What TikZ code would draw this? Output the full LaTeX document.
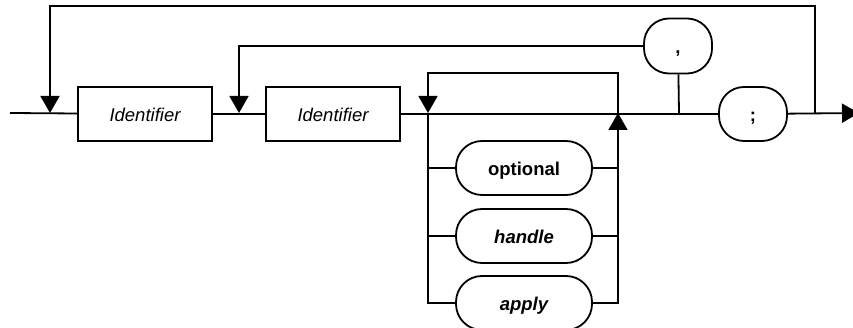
\documentclass[tikz,border=0pt]{standalone}
\usepackage{fontspec}
\setmainfont{Liberation Sans}
\usetikzlibrary{arrows.meta}

\begin{document}
\begin{tikzpicture}[x=1pt,y=-1pt,line width=1.8pt,
  nonterm/.style={draw,minimum width=134pt,minimum height=54pt,inner sep=0pt,
    text height=15pt,text depth=0pt,font=\fontsize{18.5}{22}\selectfont\itshape},
  term/.style={draw,rounded corners=26pt,minimum width=136pt,minimum height=54pt,inner sep=0pt,
    text height=15pt,text depth=0pt,font=\fontsize{18.5}{22}\selectfont\bfseries},
  tip/.style={-{Triangle[width=19pt,length=17pt]}}]
\useasboundingbox (0,0) rectangle (853,328);

% junctions on the main line
\coordinate (start) at (10,113);
\coordinate (j1) at (50,113);
\coordinate (j2) at (239,113);
\coordinate (j3) at (428,113);
\coordinate (j4) at (618,113);
\coordinate (j5) at (679,113);
\coordinate (j6) at (815,113);
\coordinate (stop) at (859,113);
\coordinate (top1) at (50,6);
\coordinate (top3) at (428,73);

% boxes
\node[nonterm] (id1) at (145,114) {Identifier};
\node[nonterm] (id2) at (333,114) {Identifier};
\node[term] (opt) at (524,168) {optional};
\node[term,font=\fontsize{18.5}{22}\selectfont\bfseries\itshape] (handle) at (524,236) {handle};
\node[term,font=\fontsize{18.5}{22}\selectfont\bfseries\itshape] (apply) at (524,303) {apply};
\node[term,minimum width=68pt,minimum height=55pt,rounded corners=25pt] (comma) at (678,46) {,};
\node[term,minimum width=68pt,rounded corners=25pt] (semi) at (753,114) {;};

% main line
\draw (start) -- (id1);
\draw (id1) -- (id2);
\draw (id2) -- (semi);
\draw[tip] (semi) -- (stop);

% loops back
\draw[tip] (j6) |- (top1) -- (j1);
\draw (j5) -- (comma);
\draw[tip] (comma) -| (j2);
\draw[tip] (j4) |- (top3) -- (j3);

% choices
\foreach \n in {opt,handle} {
  \draw (j3) |- (\n);
  \draw (\n) -| (j4);
}
\draw (j3) |- (apply);
\draw[tip] (apply) -| (j4);
\end{tikzpicture}
\end{document}
